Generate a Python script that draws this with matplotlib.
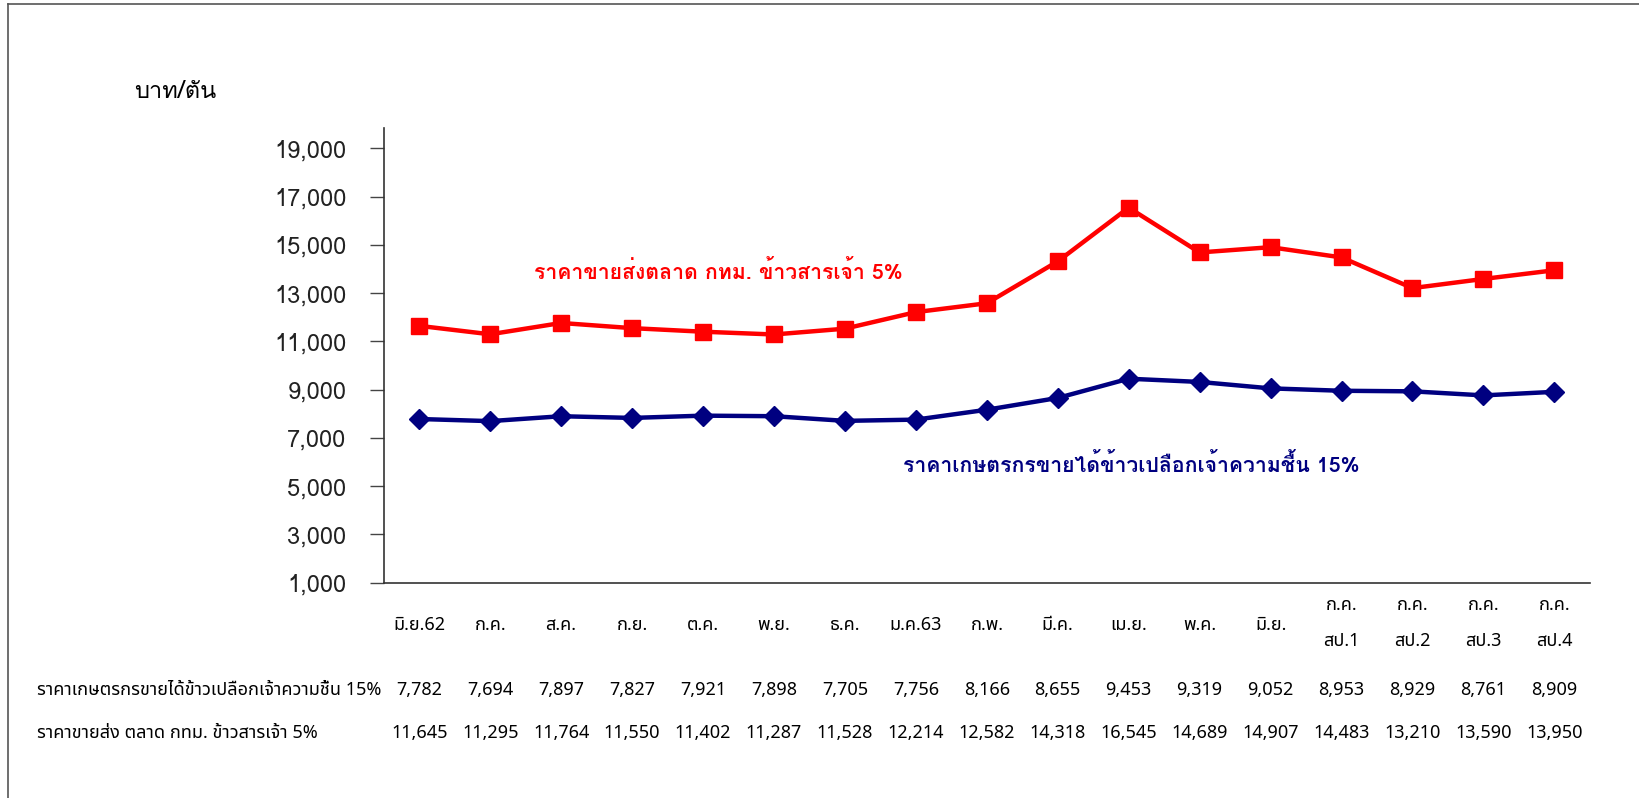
import matplotlib
matplotlib.use("Agg")
import matplotlib.pyplot as plt
import matplotlib.transforms as mtransforms
import matplotlib.patheffects as pe
from matplotlib import font_manager
from matplotlib.ft2font import FT2Font
from matplotlib.lines import Line2D

# === Dados ===
meses = ["มิ.ย.62", "ก.ค.", "ส.ค.", "ก.ย.", "ต.ค.", "พ.ย.", "ธ.ค.", "ม.ค.63", "ก.พ.",
         "มี.ค.", "เม.ย.", "พ.ค.", "มิ.ย.", "ก.ค.\nสป.1", "ก.ค.\nสป.2", "ก.ค.\nสป.3", "ก.ค.\nสป.4"]
preco_agricultor = [7782, 7694, 7897, 7827, 7921, 7898, 7705, 7756, 8166,
                    8655, 9453, 9319, 9052, 8953, 8929, 8761, 8909]
preco_atacado = [11645, 11295, 11764, 11550, 11402, 11287, 11528, 12214, 12582,
                 14318, 16545, 14689, 14907, 14483, 13210, 13590, 13950]
nome_agricultor = "ราคาเกษตรกรขายได้ข้าวเปลือกเจ้าความชื้น 15%"
nome_atacado_tabela = "ราคาขายส่ง ตลาด กทม. ข้าวสารเจ้า 5%"
nome_atacado = "ราคาขายส่งตลาด กทม. ข้าวสารเจ้า 5%"
unidade = "บาท/ตัน"
yticks = list(range(1000, 20000, 2000))


# === Fontes com tailandês ===
def achar_fontes_thai():
    preferidas = ["Tahoma", "Noto Sans Thai", "Noto Sans Thai UI", "Garuda", "Loma",
                  "Sarabun", "TH Sarabun New", "Waree", "Norasi", "Kinnari"]
    achadas = {}
    for f in font_manager.fontManager.ttflist:
        try:
            if FT2Font(f.fname).get_char_index(0x0E01):
                achadas.setdefault(f.name, []).append(f.weight)
        except Exception:
            pass
    if not achadas:
        return None, None, False
    normal = None
    for p in preferidas:
        if p in achadas:
            normal = p
            break
    if normal is None:
        normal = list(achadas)[0]
    negrito = None
    for nome, pesos in achadas.items():
        if any((isinstance(p, int) and p >= 600) or p == "bold" for p in pesos):
            negrito = nome
            break
    if negrito is None:
        return normal, normal, False
    return normal, negrito, True


fonte_tabela, fonte_titulo, tem_negrito = achar_fontes_thai()
fam_tabela = [fonte_tabela, "DejaVu Sans"] if fonte_tabela else ["DejaVu Sans"]
fam_titulo = [fonte_titulo, "DejaVu Sans"] if fonte_titulo else ["DejaVu Sans"]
plt.rcParams["font.family"] = fam_titulo

vermelho = "#FF0000"
azul = "#000080"

fig = plt.figure(figsize=(16.4, 7.98), dpi=100)
ax = fig.add_axes([0.234, 0.270, 0.7354, 0.5696])

x = list(range(len(meses)))
ax.plot(x, preco_atacado, color=vermelho, lw=3.2, marker="s", ms=11.5, zorder=3)
ax.plot(x, preco_agricultor, color=azul, lw=3.2, marker="D", ms=10.5, zorder=3)

ax.set_xlim(-0.5, len(meses) - 0.5)
ax.set_ylim(1000, 19850)
ax.set_yticks(yticks)
ax.set_yticklabels([f"{v:,}" for v in yticks], fontsize=17, color="#222222")
ax.tick_params(axis="y", direction="out", length=10, width=1, pad=17, color="#444444")
ax.tick_params(axis="x", length=0, labelbottom=False)
for s in ["top", "right"]:
    ax.spines[s].set_visible(False)
for s in ["left", "bottom"]:
    ax.spines[s].set_color("#333333")
    ax.spines[s].set_linewidth(1.2)

# rótulos das séries (negrito; se a fonte não tiver, engrossa com contorno)
for texto, cor, px, py in [(nome_atacado, vermelho, 4.21, 13900),
                           (nome_agricultor, azul, 10.04, 5900)]:
    t = ax.text(px, py, texto, color=cor, fontsize=15.3, fontweight="bold",
                ha="center", va="center")
    if not tem_negrito:
        t.set_path_effects([pe.withStroke(linewidth=1.1, foreground=cor)])

# unidade
fig.text(134 / 1640, 1 - 91 / 798, unidade, fontsize=17, ha="left", va="center")

# categorias e tabela (x em dados, y em pixels da figura)
bt = mtransforms.blended_transform_factory(ax.transData, fig.transFigure)
for i, m in enumerate(meses):
    partes = m.split("\n")
    ys = [625] if len(partes) == 1 else [605, 641]
    for parte, yy in zip(partes, ys):
        ax.text(i, 1 - yy / 798, parte, transform=bt, fontsize=13, family=fam_tabela,
                ha="center", va="center", clip_on=False)

for i in x:
    ax.text(i, 1 - 690 / 798, f"{preco_agricultor[i]:,}", transform=bt, fontsize=13,
            family=fam_tabela, ha="center", va="center", clip_on=False)
    ax.text(i, 1 - 733 / 798, f"{preco_atacado[i]:,}", transform=bt, fontsize=13,
            family=fam_tabela, ha="center", va="center", clip_on=False)
fig.text(37 / 1640, 1 - 690 / 798, nome_agricultor, fontsize=13, family=fam_tabela,
         ha="left", va="center")
fig.text(37 / 1640, 1 - 733 / 798, nome_atacado_tabela, fontsize=13, family=fam_tabela,
         ha="left", va="center")

# moldura (topo e esquerda)
fig.add_artist(Line2D([8 / 1640, 8 / 1640], [0, 1 - 4 / 798], transform=fig.transFigure,
                      color="#555555", lw=1.2))
fig.add_artist(Line2D([8 / 1640, 1], [1 - 4 / 798, 1 - 4 / 798], transform=fig.transFigure,
                      color="#555555", lw=1.2))

fig.savefig("out.png", dpi=100, facecolor="white")
